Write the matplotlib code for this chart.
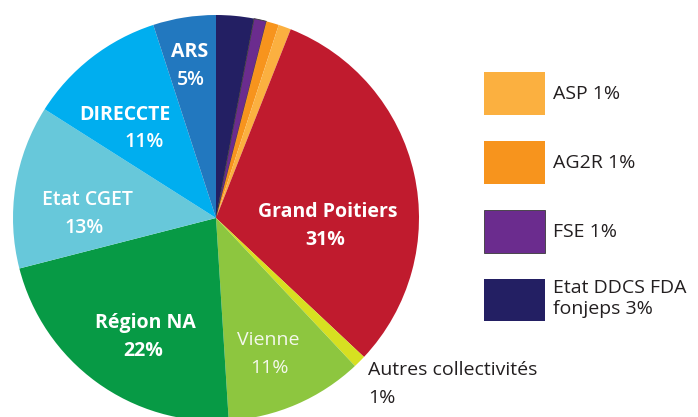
import matplotlib.pyplot as plt

plt.rcParams['font.family'] = ['Open Sans', 'DejaVu Sans']

# slices clockwise from the top
names = ['Etat DDCS FDA fonjeps', 'FSE', 'AG2R', 'ASP', 'Grand Poitiers',
         'Autres collectivités', 'Vienne', 'Région NA', 'Etat CGET',
         'DIRECCTE', 'ARS']
values = [3, 1, 1, 1, 31, 1, 11, 22, 13, 11, 5]
colors = ['#231f63', '#6b2c8e', '#f7941d', '#fbb040', '#c01b2e',
          '#d7e021', '#8dc63f', '#079a45', '#67c8da', '#00aeef', '#2278bf']

fig = plt.figure(figsize=(6.98, 4.17), dpi=100)
# pie centre ~ (216, 218) px, radius ~203 px
ax = fig.add_axes([13 / 698, (417 - 218 - 203) / 417, 406 / 698, 406 / 417])
wedges, _ = ax.pie(values, colors=colors, startangle=90, counterclock=False,
                   radius=1, wedgeprops=dict(linewidth=0))
wedges[1].set_edgecolor('#3a3a3a')
wedges[1].set_linewidth(0.6)
ax.set_xlim(-1, 1)
ax.set_ylim(-1, 1)
ax.set_aspect('equal')
ax.axis('off')


def px(x, y):
    return (x - 216) / 203, (218 - y) / 203


fs = 14
# labels inside slices: (text, x px, y px, weight, color)
inner = [
    ('Grand Poitiers', 328, 212, 'bold', 'white'),
    ('31%', 325, 240, 'bold', 'white'),
    ('ARS', 190, 52, 'bold', 'white'),
    ('5%', 191, 80, 'semibold', 'white'),
    ('DIRECCTE', 125, 115, 'bold', 'white'),
    ('11%', 144, 142, 'semibold', 'white'),
    ('Etat CGET', 87, 200, 'semibold', 'white'),
    ('13%', 84, 228, 'semibold', 'white'),
    ('Région NA', 145, 323, 'bold', 'white'),
    ('22%', 143, 351, 'bold', 'white'),
    ('Vienne', 268, 340, 'normal', '#f4f8ec'),
    ('11%', 269, 368, 'normal', '#f4f8ec'),
]
for txt, x, y, w, c in inner:
    xx, yy = px(x, y)
    ax.text(xx, yy, txt, ha='center', va='center', fontsize=fs,
            fontweight=w, color=c)

xx, yy = px(368, 370)
ax.text(xx, yy, 'Autres collectivités', ha='left', va='center',
        fontsize=fs, color='#231f20', clip_on=False)
xx, yy = px(368, 398)
ax.text(xx, yy, '1%', ha='left', va='center', fontsize=fs,
        color='#231f20', clip_on=False)

# legend for the small slices
leg_idx = [3, 2, 1, 0]
leg_labels = ['ASP 1%', 'AG2R 1%', 'FSE 1%', 'Etat DDCS FDA\nfonjeps 3%']
leg = fig.legend([wedges[i] for i in leg_idx], leg_labels,
                 loc='upper left', bbox_to_anchor=(484 / 698, 1 - 72 / 417),
                 frameon=False, fontsize=fs, borderpad=0, borderaxespad=0,
                 handlelength=3.15, handleheight=3.0, handletextpad=0.4,
                 labelspacing=1.35, labelcolor='#231f20')

fig.savefig('out.png', dpi=100)
